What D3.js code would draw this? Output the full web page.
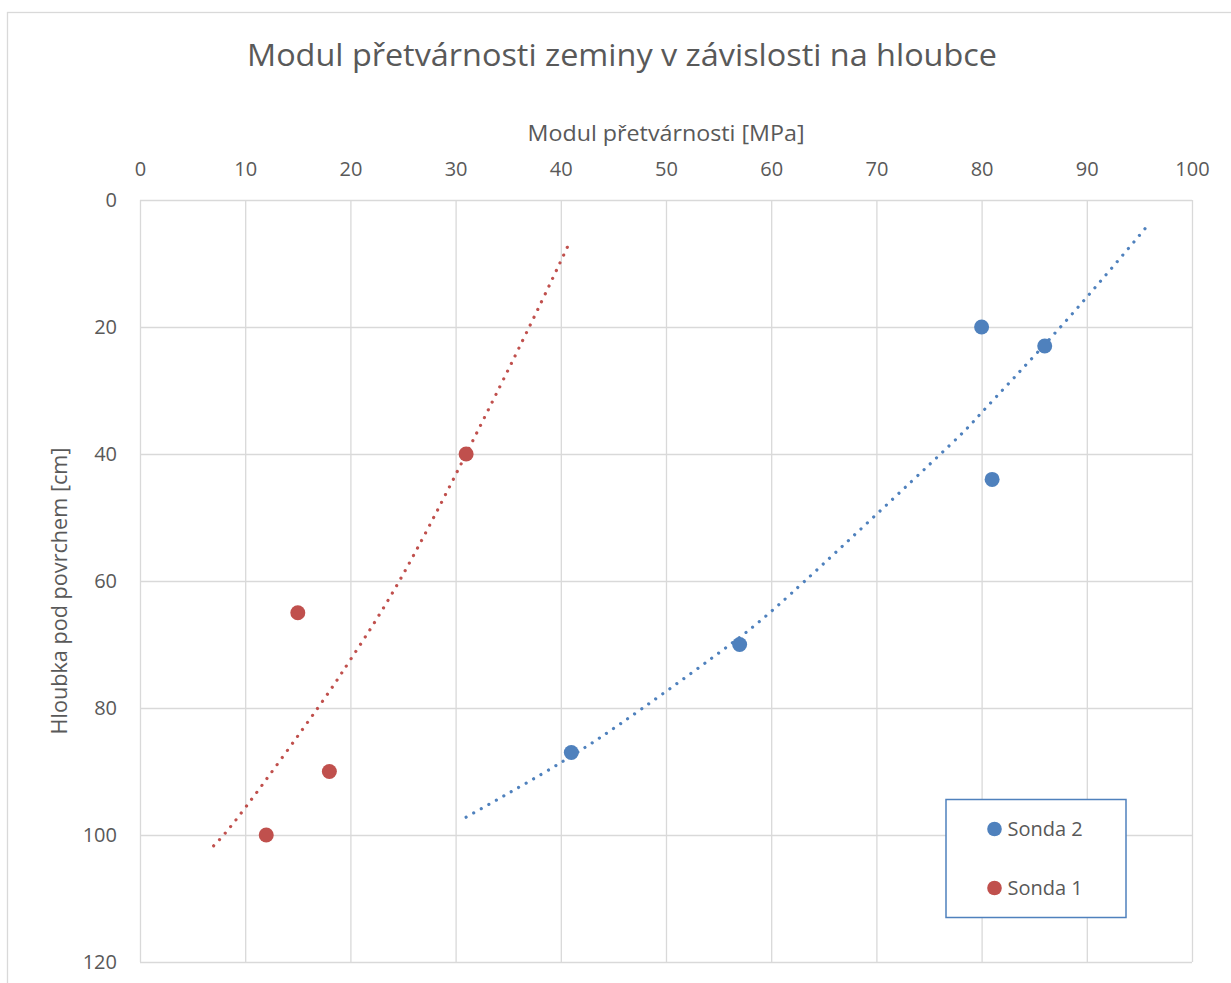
<!DOCTYPE html>
<html>
<head>
<meta charset="utf-8">
<script src="https://cdn.jsdelivr.net/npm/d3@7"></script>
<style>
  html, body { margin: 0; padding: 0; background: #ffffff; }
  svg { display: block; font-family: "Open Sans", "Noto Sans", sans-serif; }
</style>
</head>
<body>
<svg id="chart" width="1231" height="983"></svg>
<script>
// ---- data ----
const titleText = "Modul přetvárnosti zeminy v závislosti na hloubce";
const xAxisTitle = "Modul přetvárnosti [MPa]";
const yAxisTitle = "Hloubka pod povrchem [cm]";

const xTicks = [0, 10, 20, 30, 40, 50, 60, 70, 80, 90, 100];
const yTicks = [0, 20, 40, 60, 80, 100, 120];

const sonda1X = [31, 15, 18, 12];
const sonda1Y = [40, 65, 90, 100];
const sonda2X = [80, 86, 81, 57, 41];
const sonda2Y = [20, 23, 44, 70, 87];

// trendlines
const trend1X = [7.0, 10.1, 16.9, 20.0, 24.65, 31.0, 37.0, 40.8];
const trend1Y = [101.7, 95.5, 80.0, 72.4, 60.0, 40.0, 20.0, 6.8];
const trend2X = [31.0, 40.2, 47.8, 56.1, 63.2, 76.1, 80.1, 87.5, 95.8];
const trend2Y = [97.2, 88.4, 80.0, 70.0, 60.0, 40.0, 33.3, 20.0, 4.0];

const seriesNames = ["Sonda 2", "Sonda 1"];
const colors = { "Sonda 1": "#C0504D", "Sonda 2": "#4F81BD" };

// ---- layout ----
const svg = d3.select("#chart");
const plot = { left: 140, top: 200, right: 1192, bottom: 962 };
const textColor = "#595959";
const gridColor = "#D9D9D9";

// outer chart border
svg.append("rect")
  .attr("x", 7.5).attr("y", 12.5)
  .attr("width", 1400).attr("height", 1200)
  .attr("fill", "#fff").attr("stroke", gridColor).attr("stroke-width", 1.3);

const x = d3.scaleLinear().domain([0, 100]).range([plot.left, plot.right]);
const y = d3.scaleLinear().domain([0, 120]).range([plot.top, plot.bottom]);

// x axis (top) with vertical gridlines
const xAxis = svg.append("g")
  .attr("transform", `translate(0,${plot.top})`)
  .call(d3.axisTop(x).tickValues(xTicks).tickFormat(d3.format("d"))
        .tickSize(-(plot.bottom - plot.top)).tickPadding(24));
xAxis.select(".domain").remove();
xAxis.selectAll(".tick line").attr("stroke", gridColor).attr("stroke-width", 1.3);
xAxis.selectAll(".tick text")
  .attr("fill", textColor).style("font-size", "20px")
  .style("font-family", '"Open Sans", sans-serif');

// y axis (left) with horizontal gridlines
const yAxis = svg.append("g")
  .attr("transform", `translate(${plot.left},0)`)
  .call(d3.axisLeft(y).tickValues(yTicks).tickFormat(d3.format("d"))
        .tickSize(-(plot.right - plot.left)).tickPadding(23));
yAxis.select(".domain").remove();
yAxis.selectAll(".tick line").attr("stroke", gridColor).attr("stroke-width", 1.3);
yAxis.selectAll(".tick text")
  .attr("fill", textColor).style("font-size", "20px")
  .style("font-family", '"Open Sans", sans-serif');

// titles
svg.append("text")
  .attr("x", 622).attr("y", 66)
  .attr("text-anchor", "middle")
  .attr("fill", textColor)
  .style("font-size", "31px")
  .attr("textLength", 750).attr("lengthAdjust", "spacingAndGlyphs")
  .text(titleText);

svg.append("text")
  .attr("x", 666).attr("y", 141)
  .attr("text-anchor", "middle")
  .attr("fill", textColor)
  .style("font-size", "22px")
  .attr("textLength", 277).attr("lengthAdjust", "spacingAndGlyphs")
  .text(xAxisTitle);

svg.append("text")
  .attr("transform", `translate(67,591) rotate(-90)`)
  .attr("text-anchor", "middle")
  .attr("fill", textColor)
  .style("font-size", "22px")
  .attr("textLength", 287).attr("lengthAdjust", "spacingAndGlyphs")
  .text(yAxisTitle);

// trendlines (dotted)
const line = d3.line().x(d => x(d[0])).y(d => y(d[1])).curve(d3.curveNatural);
const trend1 = trend1X.map((v, i) => [v, trend1Y[i]]);
const trend2 = trend2X.map((v, i) => [v, trend2Y[i]]);

[[trend1, colors["Sonda 1"]], [trend2, colors["Sonda 2"]]].forEach(([pts, c]) => {
  svg.append("path")
    .datum(pts)
    .attr("d", line)
    .attr("fill", "none")
    .attr("stroke", c)
    .attr("stroke-width", 3.2)
    .attr("stroke-linecap", "round")
    .attr("stroke-dasharray", "0.01 8.6");
});

// scatter points
const s1 = sonda1X.map((v, i) => ({ x: v, y: sonda1Y[i] }));
const s2 = sonda2X.map((v, i) => ({ x: v, y: sonda2Y[i] }));

svg.append("g").selectAll("circle").data(s1).join("circle")
  .attr("cx", d => x(d.x)).attr("cy", d => y(d.y)).attr("r", 7.5)
  .attr("fill", colors["Sonda 1"]);
svg.append("g").selectAll("circle").data(s2).join("circle")
  .attr("cx", d => x(d.x)).attr("cy", d => y(d.y)).attr("r", 7.5)
  .attr("fill", colors["Sonda 2"]);

// legend
const legend = svg.append("g");
legend.append("rect")
  .attr("x", 946).attr("y", 799.5)
  .attr("width", 180).attr("height", 118)
  .attr("fill", "#fff")
  .attr("stroke", "#4F81BD").attr("stroke-width", 1.5);

const legendY = d3.scalePoint().domain(seriesNames).range([829, 888]);
seriesNames.forEach(name => {
  legend.append("circle")
    .attr("cx", 994.5).attr("cy", legendY(name)).attr("r", 7.3)
    .attr("fill", colors[name]);
  legend.append("text")
    .attr("x", 1007.5).attr("y", legendY(name))
    .attr("dy", "0.36em")
    .attr("fill", textColor)
    .style("font-size", "20px")
    .text(name);
});
</script>
</body>
</html>
